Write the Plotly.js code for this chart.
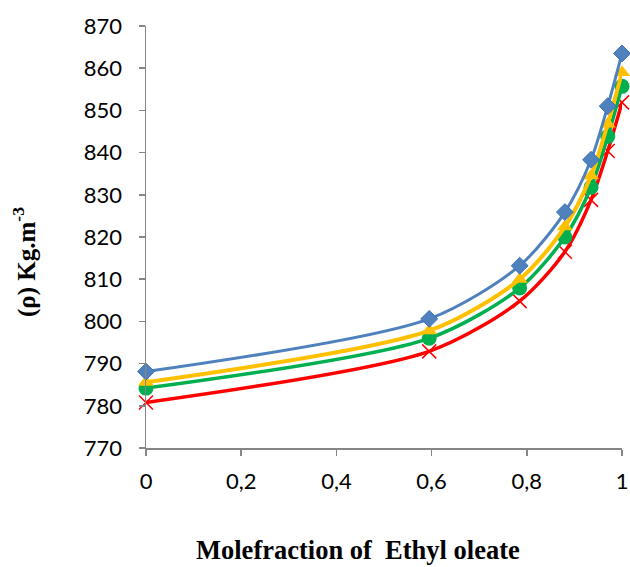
<!DOCTYPE html>
<html>
<head>
<meta charset="utf-8">
<script src="https://cdn.plot.ly/plotly-3.0.1.min.js"></script>
<style>html,body{margin:0;padding:0;background:#fff;}#chart{width:630px;height:567px;}</style>
</head>
<body>
<div id="chart"></div>
<script>
const xFraction = [0, 0.595, 0.785, 0.88, 0.935, 0.97, 1];
const seriesBlue = [788.1, 800.6, 813.2, 825.9, 838.3, 851.0, 863.5];
const seriesYellow = [785.6, 797.8, 810.0, 822.4, 834.5, 846.8, 859.0];
const seriesGreen = [784.2, 796.0, 807.9, 820.0, 831.8, 843.8, 855.7];
const seriesRed = [780.8, 792.9, 804.8, 816.5, 828.8, 840.4, 851.9];

function tr(y, color, width, symbol, size, mline) {
  return {
    x: xFraction, y: y, type: 'scatter', mode: 'lines+markers',
    line: {color: color, width: width, shape: 'spline', smoothing: 0.8},
    marker: {color: color, symbol: symbol, size: size, line: mline || {width: 0}},
    showlegend: false, hoverinfo: 'skip', cliponaxis: false
  };
}

const data = [
  tr(seriesRed, '#FF0000', 3.5, 'x-thin-open', 14, {color: '#FF0000', width: 1.5}),
  tr(seriesGreen, '#00B050', 3.5, 'circle', 15),
  tr(seriesYellow, '#FFC000', 4, 'triangle-up', 14),
  tr(seriesBlue, '#4F81BD', 3, 'diamond', 13, {color: '#3C72B8', width: 1})
];

const tickFont = {family: 'Lato, "Open Sans", sans-serif', size: 22, color: '#000'};
const titleFont = {family: '"Liberation Serif", "Times New Roman", serif', size: 26.5, color: '#000'};

const layout = {
  width: 630, height: 567,
  margin: {l: 146, r: 8, t: 26, b: 119},
  paper_bgcolor: '#fff', plot_bgcolor: '#fff',
  separators: ', ',
  font: {family: 'Lato, "Open Sans", sans-serif', color: '#000', size: 22},
  xaxis: {
    range: [0, 1], dtick: 0.2, tick0: 0,
    showgrid: false, zeroline: false,
    showline: true, linecolor: '#868686', linewidth: 1.5,
    ticks: 'outside', ticklen: 6, tickcolor: '#868686', tickwidth: 1.5,
    ticklabelstandoff: 7,
    tickfont: tickFont
  },
  yaxis: {
    range: [770, 870], dtick: 10, tick0: 770,
    showgrid: false, zeroline: false,
    showline: true, linecolor: '#868686', linewidth: 1.5,
    ticks: 'outside', ticklen: 6, tickcolor: '#868686', tickwidth: 1.5,
    ticklabelstandoff: 12,
    tickfont: tickFont
  },
  annotations: [
    {text: '<b>Molefraction of  Ethyl oleate</b>', xref: 'paper', yref: 'paper',
     x: 0.445, y: -0.242, xanchor: 'center', yanchor: 'middle', showarrow: false,
     font: titleFont},
    {text: '<b>(ρ) Kg.m<sup>-3</sup></b>', xref: 'paper', yref: 'paper',
     x: -0.254, y: 0.441, xanchor: 'center', yanchor: 'middle', showarrow: false, textangle: -90,
     font: {family: '"Liberation Serif", "Times New Roman", serif', size: 25, color: '#000'}}
  ]
};

Plotly.newPlot('chart', data, layout, {staticPlot: true, displayModeBar: false});
</script>
</body>
</html>
